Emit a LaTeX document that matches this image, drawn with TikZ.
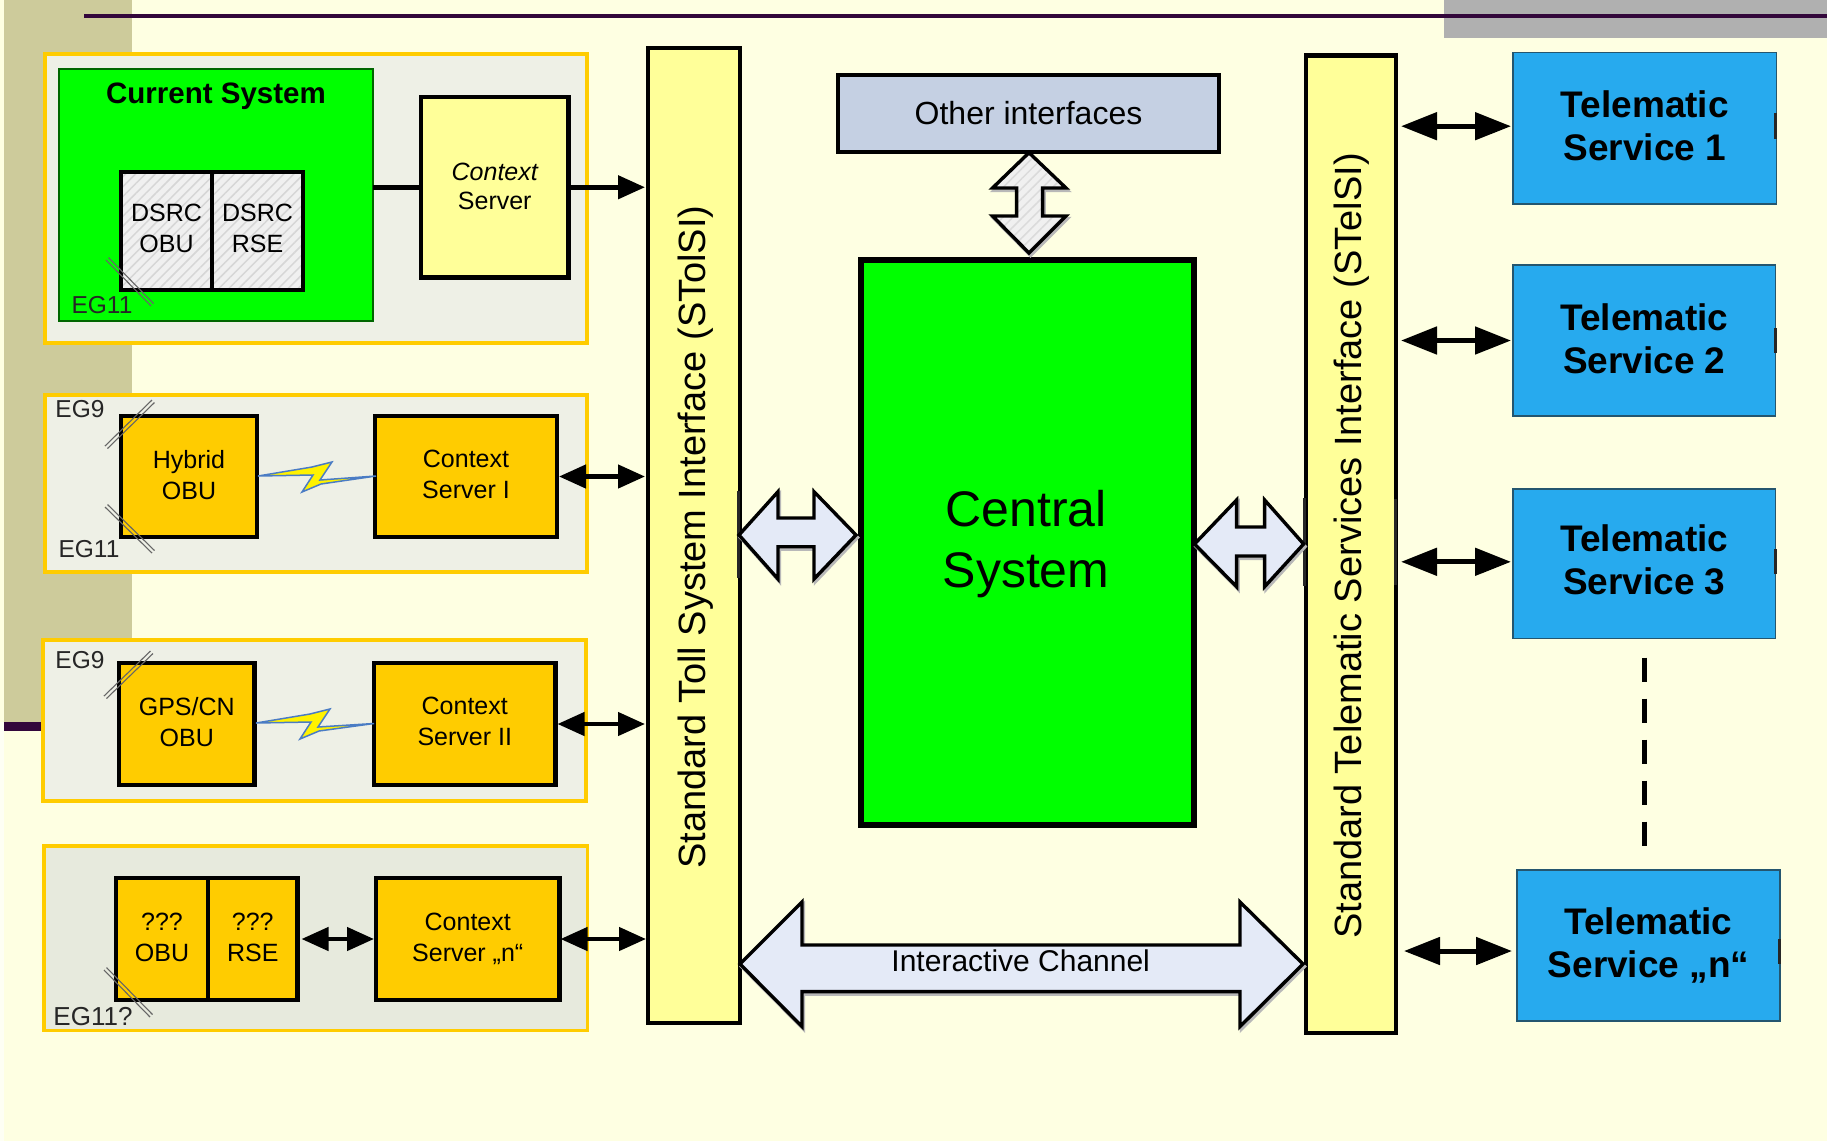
\documentclass[tikz,border=0pt]{standalone}
\usepackage{fontspec}
\setmainfont{Liberation Sans}
\usetikzlibrary{arrows.meta,patterns.meta,calc}
\definecolor{bgcream}{HTML}{FEFFE2}
\definecolor{tanbar}{HTML}{CDCB9B}
\definecolor{plumline}{HTML}{33073B}
\definecolor{greybar}{HTML}{B0B0B0}
\definecolor{frameorange}{HTML}{FFCC00}
\definecolor{framefill}{HTML}{EEF0E6}
\definecolor{framefillb}{HTML}{E7EADD}
\definecolor{palebar}{HTML}{FFFF99}
\definecolor{srvblue}{HTML}{27AAEE}
\definecolor{srvedge}{HTML}{24566F}
\definecolor{ifaceblue}{HTML}{C5D0E3}
\definecolor{blockfill}{HTML}{E4EAF7}
\definecolor{boltedge}{HTML}{4A7CC4}
\newcommand{\fsz}[2]{\fontsize{#1}{#2}\selectfont}
\newcommand{\lift}[1]{\rule[-#1pt]{0pt}{0pt}}
\newcommand{\rectnode}[7][]{%
  \node[#1,outer sep=0pt,inner sep=0pt,align=center,
        minimum width={#4pt-#2pt},minimum height={#5pt-#3pt}]
        (#6) at ({(#2+#4)/2},{(#3+#5)/2}) {#7};}
\newcommand{\egmark}[6]{% x1 y1 x2 y2 dx dy
  \draw[egline] (#1,#2) -- (#3,#4);
  \draw[egline] (#1+#5,#2+#6) -- (#3+#5,#4+#6);}
\tikzset{
  frame/.style={draw=frameorange,line width=3.6pt,fill=framefill},
  darkbox/.style={draw=black,line width=4.5pt,fill=frameorange,font=\fsz{25}{31}},
  hatchbox/.style={draw=black,line width=4.5pt,preaction={fill=white!94!black},
     pattern={Lines[angle=45,distance=7pt,line width=1.5pt]},pattern color=black!16,font=\fsz{25}{31}},
  palebox/.style={draw=black,line width=4.5pt,fill=palebar,font=\fsz{25}{29}},
  barbox/.style={draw=black,line width=4.5pt,fill=palebar},
  srvbox/.style={draw=srvedge,line width=1.6pt,fill=srvblue,font=\fsz{37}{43}\bfseries},
  labeltext/.style={inner sep=0pt,font=\fsz{24.5}{30},text=black!85},
  bartext/.style={inner sep=0pt,rotate=90,font=\fsz{38}{44}},
  egline/.style={draw=black!60,line width=1.1pt},
  bi/.style={line width=4.5pt,{Triangle[length=27pt,width=23pt]}-{Triangle[length=27pt,width=23pt]}},
  bibig/.style={line width=5pt,{Triangle[length=36pt,width=27pt]}-{Triangle[length=36pt,width=27pt]}},
  block/.style={draw=black,line width=3.4pt,fill=blockfill,line join=miter,
     preaction={draw=black!28,line width=3.4pt,transform canvas={shift={(1.5pt,-2.5pt)}}}},
  bolt/.style={draw=boltedge,line width=1.5pt,fill=yellow,line join=miter},
  tickmark/.style={draw=black!85,line width=3pt}
}
\begin{document}
\begin{tikzpicture}[x=1pt,y=-1pt]
\useasboundingbox (0,0) rectangle (1827,1141);
% slide background
\fill[bgcream] (0,0) rectangle (1827,1141);
\fill[white!60!bgcream] (0,722) rectangle (3.5,1141);
\fill[tanbar] (3.5,0) rectangle (132,722);
\fill[plumline] (3.5,722) rectangle (46,731);
\fill[greybar] (1444,0) rectangle (1827,38);
\fill[plumline] (84,14) rectangle (1827,18);
% group frames
\rectnode[frame]{44.7}{54}{587}{343}{frameA}{}
\rectnode[frame]{44.7}{395}{587}{572}{frameB}{}
\rectnode[frame]{43}{640}{586}{801}{frameC}{}
\rectnode[frame,fill=framefillb]{44}{846}{587.5}{1030.5}{frameD}{}
% current system
\rectnode[draw=black!60!green,line width=1.6pt,fill=green]{59}{69}{373}{321}{current}{}
\node[inner sep=0pt,font=\fsz{29.5}{34}\bfseries] (currenttxt) at (216,96) {Current System};
\rectnode[hatchbox]{121}{172}{212}{290}{dsrcobu}{DSRC\\OBU\lift{5}}
\rectnode[hatchbox]{212}{172}{303}{290}{dsrcrse}{DSRC\\RSE\lift{5}}
\rectnode[palebox]{421}{97}{568.5}{277.5}{ctxzero}{{\itshape Context}\\Server\lift{2}}
\node[labeltext] (egA) at (102,305) {EG11};
\egmark{106}{260}{151}{306}{2.5}{-2.5}
% hybrid
\rectnode[darkbox]{121}{416}{257}{537}{hybrid}{Hybrid\\OBU\lift{4}}
\rectnode[darkbox]{375}{416}{557}{537}{ctxone}{Context\\Server I\lift{4}}
\node[labeltext] (egB) at (80,409.5) {EG9};
\node[labeltext] (egC) at (89,549) {EG11};
\egmark{105}{446}{152}{400}{2.5}{2.5}
\egmark{105}{507}{152}{553}{2.5}{-2.5}
% gps
\rectnode[darkbox]{119}{663}{254.5}{785}{gps}{GPS/CN\\OBU\lift{5}}
\rectnode[darkbox]{374}{663}{555.5}{785}{ctxtwo}{Context\\Server II\lift{5}}
\node[labeltext] (egD) at (80,660) {EG9};
\egmark{104}{696}{150.5}{651}{2.5}{2.5}
% unknown
\rectnode[darkbox]{116}{878}{208}{1000}{unkobu}{???\\OBU\lift{2.5}}
\rectnode[darkbox]{208}{878}{297.5}{1000}{unkrse}{???\\RSE\lift{2.5}}
\rectnode[darkbox]{376}{878}{559.5}{1000}{ctxn}{Context\\Server „n“\lift{2.5}}
\node[labeltext,font=\fsz{26}{30}] (egE) at (93,1016.5) {EG11?};
\egmark{104}{970}{150}{1017}{2.5}{-2.5}
% lightning
\draw[bolt] (258,476) -- (312,467) -- (332,462) -- (320,480) -- (376,476) -- (321,484) -- (302,492) -- (313,475) -- cycle;
\draw[bolt] (256,723) -- (310,714) -- (330,709) -- (318,727) -- (374,723.5) -- (319,731) -- (300,739) -- (311,722) -- cycle;
% interface bars
\rectnode[barbox]{648}{48}{740}{1023}{tollbar}{}
\node[bartext] (tolltxt) at (695.5,537) {Standard Toll System Interface (STolSI)};
\rectnode[barbox]{1306}{55.5}{1396}{1033}{telbar}{}
\node[bartext] (teltxt) at (1351.5,546) {Standard Telematic Services Interface (STelSI)};
\draw[tickmark] (738,491) -- (738,578);
\draw[tickmark] (1304,498) -- (1304,586);
\draw[tickmark] (1395,499) -- (1395,585);
% centre
\rectnode[draw=black,line width=4.5pt,fill=ifaceblue,font=\fsz{32}{38}]{838}{75}{1219}{152}{others}{Other interfaces}
\rectnode[draw=black,line width=5.5pt,fill=green]{861}{260}{1194}{825}{central}{}
\node[inner sep=0pt,align=center,font=\fsz{50}{61}] (centraltxt) at (1026,544.5) {Central\\System};
% services
\rectnode[srvbox]{1513}{52.4}{1776.6}{204}{srvone}{Telematic\\Service 1\lift{4.5}}
\rectnode[srvbox]{1513}{265}{1775.6}{416}{srvtwo}{Telematic\\Service 2\lift{4.5}}
\rectnode[srvbox]{1513}{489}{1775.6}{638.6}{srvthree}{Telematic\\Service 3\lift{8}}
\rectnode[srvbox]{1517}{870}{1780}{1021}{srvn}{Telematic\\Service „n“}
\draw[tickmark] (1775,113) -- (1775,138.5);
\draw[tickmark] (1775,328) -- (1775,353);
\draw[tickmark] (1775,549) -- (1775,574);
\draw[tickmark] (1779,939) -- (1779,964);
% dashed continuation
\draw[line width=5pt,dash pattern=on 24pt off 17pt] ([yshift=-19pt]srvthree.south -| 1644,0) -- ([xshift=-4.5pt,yshift=23pt]srvn.north);
% plain connections
\draw[line width=4.5pt] (current.east |- ctxzero.west) -- (ctxzero.west);
\draw[line width=4.5pt,-{Triangle[length=27pt,width=23pt]},shorten >=3pt] (ctxzero.east) -- (tollbar.west |- ctxzero.east);
\draw[bi,shorten <=2pt,shorten >=3pt] (ctxone.east) -- (tollbar.west |- ctxone.east);
\draw[bi,shorten <=2pt,shorten >=3pt] (ctxtwo.east) -- (tollbar.west |- ctxtwo.east);
\draw[bi,shorten <=1pt,shorten >=2pt] (ctxn.east) -- (tollbar.west |- ctxn.east);
\draw[bi,shorten <=4pt,shorten >=2pt] (unkrse.east) -- (ctxn.west);
\draw[bibig,shorten <=5pt,shorten >=2pt] ([yshift=2pt]telbar.east |- srvone.west) -- ([yshift=2pt]srvone.west);
\draw[bibig,shorten <=5pt,shorten >=2pt] (telbar.east |- srvtwo.west) -- (srvtwo.west);
\draw[bibig,shorten <=5pt,shorten >=2pt] ([yshift=2pt]telbar.east |- srvthree.west) -- ([yshift=2pt]srvthree.west);
\draw[bibig,shorten <=8pt,shorten >=5pt] ([yshift=-5.5pt]telbar.east |- srvn.west) -- ([yshift=-5.5pt]srvn.west);
% block arrows
\draw[block,preaction={fill=white!94!black},pattern={Lines[angle=45,distance=7pt,line width=1.5pt]},pattern color=black!14]
  (1029,152.7) -- (1066,188) -- (1042.6,188) -- (1042.6,216) -- (1066,216) -- (1029,253) -- (992.5,216) -- (1016.6,216) -- (1016.6,188) -- (992.5,188) -- cycle;
\draw[block] (739,535) -- (778,491.7) -- (778,518) -- (814,518) -- (814,491.7) -- (856,535) -- (814,579) -- (814,546.7) -- (778,546.7) -- (778,579) -- cycle;
\draw[block] (1194.5,544) -- (1236.6,500) -- (1236.6,527) -- (1264.6,527) -- (1264.6,500) -- (1303.6,544) -- (1264.6,586.7) -- (1264.6,556) -- (1236.6,556) -- (1236.6,586.7) -- cycle;
\draw[block] (740,964) -- (802,902) -- (802,945) -- (1240,945) -- (1240,902) -- (1303,964) -- (1240,1026.5) -- (1240,991.6) -- (802,991.6) -- (802,1026.5) -- cycle;
\node[inner sep=0pt,font=\fsz{30}{36}] (channel) at (1020.7,961) {Interactive Channel};
\end{tikzpicture}
\end{document}
